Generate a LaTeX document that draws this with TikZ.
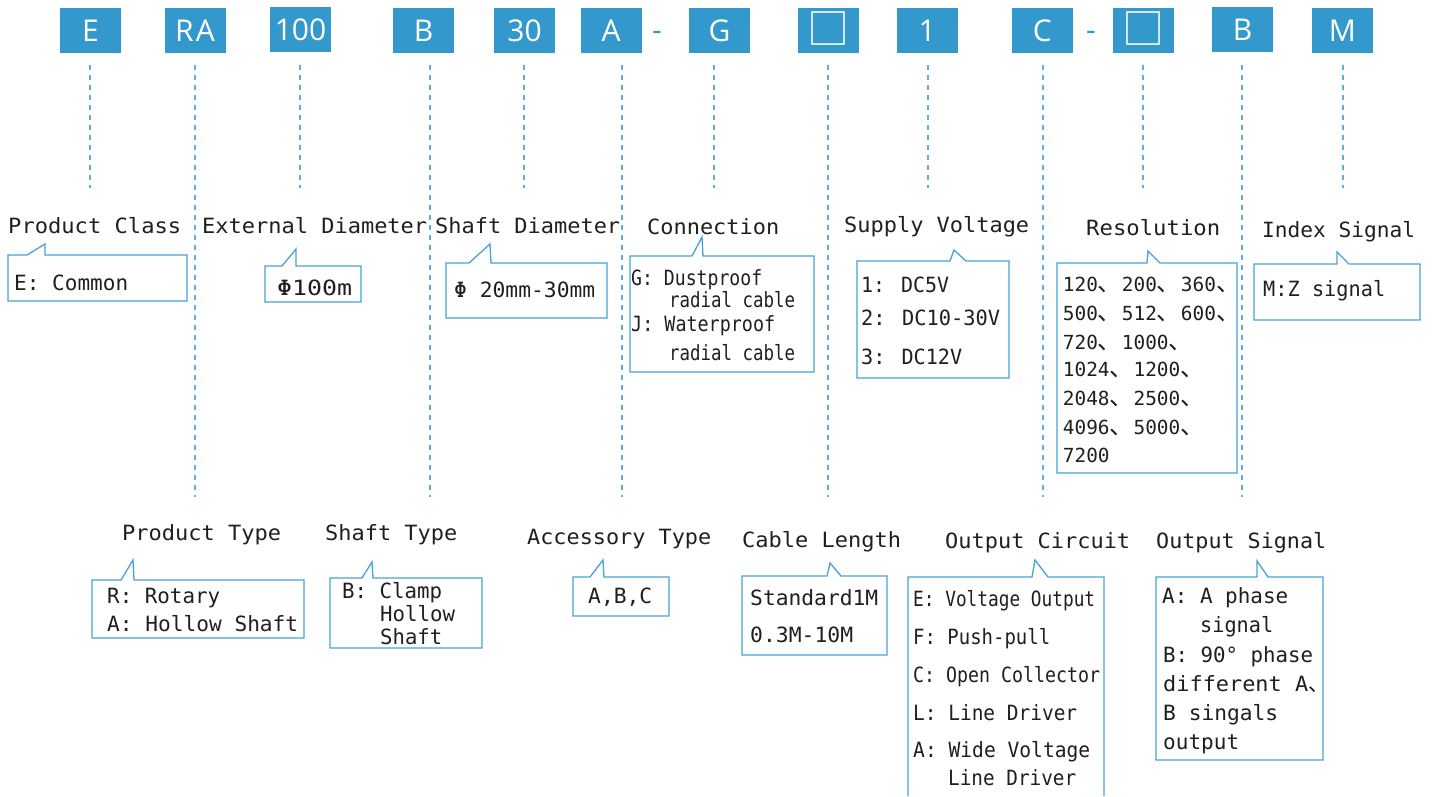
\documentclass[tikz,border=0pt]{standalone}
\usepackage{fontspec}
\usepackage{graphicx}
\setmainfont{DejaVu Sans Mono}
\newfontfamily\mono{DejaVu Sans Mono}
\newfontfamily\cjk{Noto Sans CJK SC}
\newfontfamily\headf{Open Sans}
\definecolor{boxblue}{RGB}{51,153,204}
\definecolor{lineblue}{RGB}{70,163,214}
\definecolor{dashblue}{RGB}{95,175,222}
\definecolor{txt}{RGB}{35,30,30}
\newcommand\sqglyph{\raisebox{-3pt}{\cjk\fontsize{42}{42}\selectfont □}}
\newcommand\rescomma{{\cjk\fontsize{24}{24}\selectfont 、}}
\newcommand\smcomma{{\cjk\fontsize{21}{21}\selectfont 、}}
\newcommand\T[5]{\node[lbl] (#1) at (#2,#3) {\resizebox{#4pt}{\height}{#5}};}
\newcommand\callout[8]{\draw[callout] (#1,#2) -- (#5,#2) -- (#6,#7) -- (#8,#2) -- (#3,#2) -- (#3,#4) -- (#1,#4) -- cycle;}
\newcommand\guide[3]{\coordinate (#1a) at (#2,65); \coordinate (#1b) at (#2,#3); \draw[guide] (#1a) -- (#1b);}
\begin{document}
\begin{tikzpicture}[x=1pt,y=-1pt,
  code/.style={fill=boxblue, minimum width=61pt, minimum height=45pt, inner sep=0pt, text=white,
    font=\headf\fontsize{30}{30}\selectfont, text height=21.7pt, text depth=0pt},
  hy/.style={inner sep=0pt, text=boxblue, font=\headf\fontsize{30}{30}\selectfont},
  lbl/.style={anchor=west, inner sep=0pt, text=txt, font=\mono\fontsize{21}{21}\selectfont,
    text height=15pt, text depth=0pt},
  reslbl/.style={lbl, font=\mono\fontsize{19.4}{19.4}\selectfont},
  guide/.style={dashblue, line width=1.5pt, dash pattern=on 5pt off 5pt},
  callout/.style={lineblue, line width=1.3pt, line join=miter}]
\useasboundingbox (0,0) rectangle (1432,796);
\fill[white] (0,0) rectangle (1432,796);

% code boxes
\node[code] (cE) at (90.5,30.5) {E};
\node[code] (cRA) at (195,30.5) {R\kern2pt A};
\node[code] (c100) at (300.5,29.5) {100};
\node[code] (cB) at (423.5,30.5) {B};
\node[code] (c30) at (524.5,30.5) {30};
\node[code] (cA) at (611,30.5) {A};
\node[hy] (h1) at (657,36) {-};
\node[code] (cG) at (719.5,30.5) {G};
\node[code] (cL) at (828.3,30.5) {\sqglyph};
\node[code] (c1) at (927.3,30.5) {1};
\node[code] (cC) at (1042.2,30.5) {C};
\node[hy] (h2) at (1091,36) {-};
\node[code] (cX) at (1143.5,30.5) {\sqglyph};
\node[code] (cB2) at (1242.5,29.5) {B};
\node[code] (cM) at (1342.5,30.5) {M};

% guides
\guide{gE}{90}{188}
\guide{gRA}{195}{497}
\guide{gD}{300}{188}
\guide{gB}{430}{497}
\guide{gS}{524}{188}
\guide{gA}{622}{497}
\guide{gG}{714}{188}
\guide{gL}{828}{497}
\guide{gV}{928}{188}
\guide{gC}{1043}{497}
\guide{gR}{1143}{188}
\guide{gO}{1242}{497}
\guide{gM}{1343}{188}

% top labels
\T{lPC}{8}{226}{173}{Product Class}
\T{lED}{202}{226}{225}{External Diameter}
\T{lSD}{435}{226}{185}{Shaft Diameter}
\T{lCo}{647}{227}{132}{Connection}
\T{lSV}{844}{225}{185}{Supply Voltage}
\T{lRe}{1086}{228}{134}{Resolution}
\T{lIS}{1262}{230}{153}{Index Signal}

% top callouts
\callout{8}{255}{187}{301}{27}{45}{244}{45}
\callout{265}{266}{361}{302}{282}{296}{249}{296}
\callout{446}{263}{607}{318}{469}{490}{244}{491}
\callout{630}{256}{814}{372}{692}{702}{237}{703}
\callout{857}{261}{1009}{378}{950}{954}{250}{966}
\callout{1057}{263}{1237}{473}{1147}{1148}{251}{1160}
\callout{1254}{264}{1420}{320}{1337}{1337}{252}{1349}

\T{tE}{14}{283}{114}{E: Common}
\T{tD}{277}{288}{75}{Φ100m}
\T{tS}{454}{290}{141}{Φ 20mm-30mm}
\T{tG1}{631}{278}{131}{G: Dustproof}
\T{tG2}{669}{300}{126}{radial cable}
\T{tJ1}{631}{324}{144}{J: Waterproof}
\T{tJ2}{669}{353}{126}{radial cable}
\T{tV1}{861}{285}{88}{1: DC5V}
\T{tV2}{861}{318}{139}{2: DC10-30V}
\T{tV3}{861}{357}{101}{3: DC12V}
\node[reslbl] (r1) at (1062.7,284.3) {120\rescomma 200\rescomma 360\rescomma};
\node[reslbl] (r2) at (1062.7,313.3) {500\rescomma 512\rescomma 600\rescomma};
\node[reslbl] (r3) at (1062.7,341.7) {720\rescomma 1000\rescomma};
\node[reslbl] (r4) at (1062.7,369.3) {1024\rescomma 1200\rescomma};
\node[reslbl] (r5) at (1062.7,398.3) {2048\rescomma 2500\rescomma};
\node[reslbl] (r6) at (1062.7,426.7) {4096\rescomma 5000\rescomma};
\node[reslbl] (r7) at (1062.7,455) {7200};
\T{tM}{1263}{289}{122}{M:Z signal}

% bottom labels
\T{lPT}{122}{533}{159}{Product Type}
\T{lST}{325}{533}{132}{Shaft Type}
\T{lAT}{527}{537}{184}{Accessory Type}
\T{lCL}{742}{540}{159}{Cable Length}
\T{lOC}{945}{541}{185}{Output Circuit}
\T{lOS}{1156}{541}{170}{Output Signal}

% bottom callouts
\callout{92}{580}{304}{638}{121}{133}{560}{134}
\callout{330}{578}{482}{648}{362}{372}{562}{373}
\callout{573}{577}{669}{616}{590}{603}{560}{604}
\callout{742}{576}{887}{655}{827}{830}{563}{841}
\draw[callout] (908,796) -- (908,577) -- (1032,577) -- (1035,560) -- (1048,577) -- (1104,577) -- (1104,796);
\callout{1156}{577}{1323}{760}{1257}{1257}{561}{1268}

\T{bR}{107}{596}{113}{R: Rotary}
\T{bA}{107}{624}{191}{A: Hollow Shaft}
\T{bB1}{342}{591}{100}{B: Clamp}
\T{bB2}{380}{614}{75}{Hollow}
\T{bB3}{380}{637}{62}{Shaft}
\T{bAc}{588}{596}{64}{A,B,C}
\T{bC1}{750}{598}{128}{Standard1M}
\T{bC2}{750}{635}{103}{0.3M-10M}
\T{oE}{913}{599}{182}{E: Voltage Output}
\T{oF}{913}{637}{137}{F: Push-pull}
\T{oC}{913}{675}{187}{C: Open Collector}
\T{oL}{913}{713}{164}{L: Line Driver}
\T{oA1}{913}{750}{177}{A: Wide Voltage}
\T{oA2}{948}{778}{128}{Line Driver}
\T{sA1}{1162}{596}{126}{A: A phase}
\T{sA2}{1200}{625}{73}{signal}
\T{sB1}{1163}{655}{150}{B: 90° phase}
\node[lbl] (sB2) at (1163,684) {\resizebox{145pt}{\height}{different A}\smcomma};
\T{sB3}{1163}{713}{115}{B singals}
\T{sB4}{1163}{742}{76}{output}
\end{tikzpicture}
\end{document}
